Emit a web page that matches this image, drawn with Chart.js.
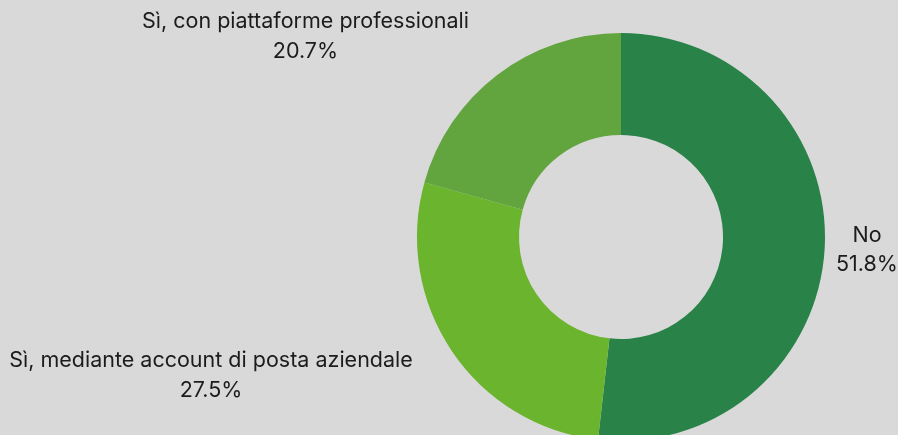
<!DOCTYPE html>
<html>
<head>
<meta charset="utf-8">
<script src="https://cdn.jsdelivr.net/npm/chart.js@4.4.1/dist/chart.umd.min.js"></script>
<style>
  html, body { margin: 0; padding: 0; background: #d9d9d9; overflow: hidden; }
  #wrap { position: relative; width: 898px; height: 441px; }
</style>
</head>
<body>
<div id="wrap"><canvas id="c"></canvas></div>
<script>
// Survey answers and shares (%)
const categories = ['No', 'Sì, mediante account di posta aziendale', 'Sì, con piattaforme professionali'];
const shares = [51.8, 27.5, 20.7];
const sliceColors = ['#298248', '#6ab42e', '#62a53e'];

// Where each label block sits, relative to the doughnut centre
const labelOffsets = [
  { dx: 246, dy: 13 },
  { dx: -410, dy: 138.5 },
  { dx: -315.5, dy: -200.5 }
];

const sliceLabels = {
  id: 'sliceLabels',
  afterDatasetsDraw(chart) {
    const meta = chart.getDatasetMeta(0);
    const arc = meta.data[0];
    const cx = arc.x, cy = arc.y;
    const ctx = chart.ctx;
    ctx.save();
    ctx.font = '21.5px Inter, "DejaVu Sans", sans-serif';
    ctx.fillStyle = '#1c1c1c';
    ctx.textAlign = 'center';
    ctx.textBaseline = 'middle';
    const lineGap = 29.5;
    chart.data.labels.forEach((name, i) => {
      const v = chart.data.datasets[0].data[i];
      const x = cx + labelOffsets[i].dx;
      const y = cy + labelOffsets[i].dy;
      ctx.fillText(name, x, y - lineGap / 2);
      ctx.fillText(v.toFixed(1) + '%', x, y + lineGap / 2);
    });
    ctx.restore();
  }
};

new Chart(document.getElementById('c'), {
  type: 'doughnut',
  data: {
    labels: categories,
    datasets: [{
      data: shares,
      backgroundColor: sliceColors,
      borderWidth: 0,
      hoverOffset: 0
    }]
  },
  options: {
    responsive: true,
    maintainAspectRatio: false,
    animation: false,
    cutout: '50%',
    layout: { padding: { top: 33, left: 344, right: 0, bottom: 0 } },
    plugins: {
      legend: { display: false },
      tooltip: { enabled: false }
    }
  },
  plugins: [sliceLabels]
});
</script>
</body>
</html>
